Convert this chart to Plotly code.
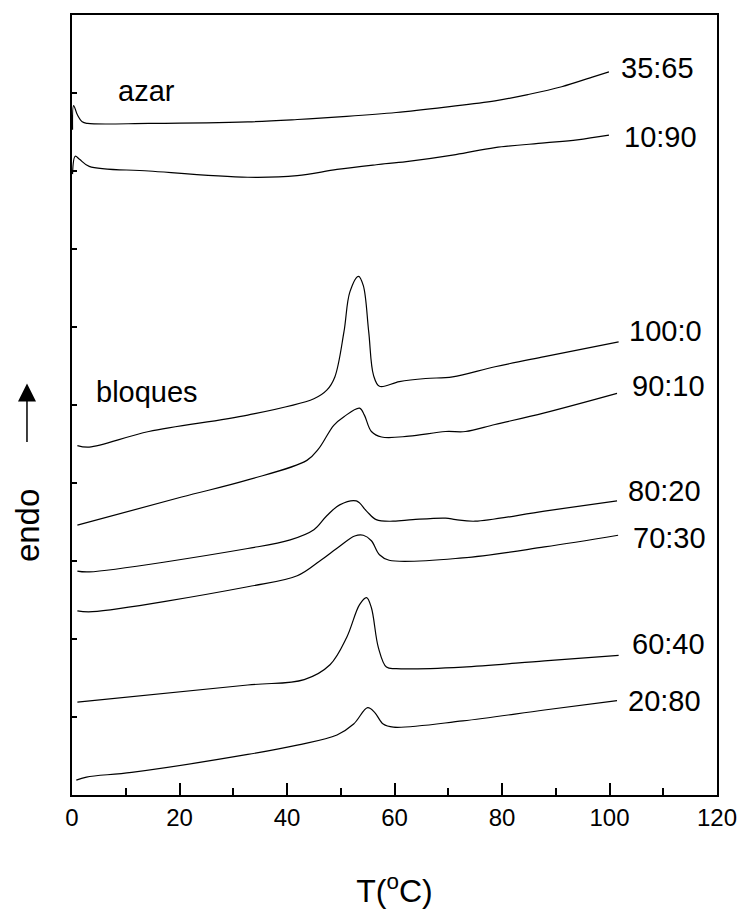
import plotly.graph_objects as go

# ---- data (temperature in °C, heat flow in arbitrary units, offset curves) ----
T_35_65 = [0.1, 0.3, 1.0, 1.9, 2.9, 14.3, 32.7, 41.9, 51.1, 60.3, 69.5, 78.7, 84.8, 91.1, 97.1, 99.9]
H_35_65 = [8.53, 8.84, 8.72, 8.63, 8.61, 8.61, 8.63, 8.66, 8.70, 8.75, 8.82, 8.90, 8.98, 9.08, 9.21, 9.27]

T_10_90 = [0.1, 0.6, 1.4, 3.2, 14.3, 32.7, 41.9, 49.3, 56.6, 62.2, 71.4, 78.7, 87.9, 94.0, 99.9]
H_10_90 = [7.96, 8.19, 8.15, 8.06, 8.00, 7.92, 7.94, 8.02, 8.08, 8.12, 8.21, 8.30, 8.36, 8.40, 8.46]

T_100_0 = [1.0, 3.2, 14.3, 32.7, 45.0, 47.4, 48.9, 50.6, 51.7, 53.3, 54.2, 55.2, 56.1, 57.2, 60.9, 65.8, 70.8, 78.7, 87.9, 101.7]
H_100_0 = [4.48, 4.46, 4.66, 4.87, 5.08, 5.19, 5.36, 5.94, 6.45, 6.65, 6.53, 5.94, 5.38, 5.24, 5.30, 5.34, 5.36, 5.49, 5.62, 5.81]

T_90_10 = [1.0, 20.4, 32.7, 43.7, 45.9, 48.7, 50.6, 53.5, 54.4, 55.7, 57.6, 62.7, 69.5, 73.2, 78.7, 87.9, 101.4]
H_90_10 = [3.46, 3.82, 4.04, 4.29, 4.44, 4.74, 4.85, 4.96, 4.87, 4.66, 4.59, 4.60, 4.66, 4.66, 4.75, 4.90, 5.15]

T_80_20 = [1.0, 3.2, 32.7, 40.6, 45.0, 47.4, 49.8, 52.9, 54.8, 56.6, 59.8, 63.4, 69.5, 71.4, 75.0, 87.9, 101.4]
H_80_20 = [2.87, 2.86, 3.16, 3.27, 3.40, 3.58, 3.72, 3.77, 3.64, 3.53, 3.51, 3.53, 3.55, 3.53, 3.51, 3.64, 3.77]

T_70_30 = [1.0, 3.8, 32.7, 41.9, 46.1, 49.8, 52.6, 54.2, 55.7, 57.2, 59.0, 72.7, 87.9, 101.6]
H_70_30 = [2.36, 2.35, 2.67, 2.81, 3.00, 3.19, 3.32, 3.33, 3.26, 3.08, 3.01, 3.04, 3.18, 3.33]

T_60_40 = [1.0, 32.7, 43.2, 48.0, 51.1, 53.5, 54.8, 55.7, 57.0, 58.5, 60.3, 72.7, 87.9, 101.7]
H_60_40 = [1.19, 1.41, 1.48, 1.67, 2.02, 2.44, 2.53, 2.40, 1.89, 1.64, 1.62, 1.64, 1.72, 1.79]

T_20_80 = [0.8, 2.7, 11.1, 32.7, 41.9, 49.3, 52.4, 55.0, 56.3, 57.9, 59.8, 72.7, 87.9, 101.4]
H_20_80 = [0.19, 0.23, 0.29, 0.52, 0.64, 0.77, 0.91, 1.12, 1.06, 0.91, 0.87, 0.95, 1.09, 1.21]

series = [
    ("35:65", T_35_65, H_35_65, 101.8, 9.32),
    ("10:90", T_10_90, H_10_90, 102.3, 8.44),
    ("100:0", T_100_0, H_100_0, 103.2, 5.95),
    ("90:10", T_90_10, H_90_10, 103.8, 5.24),
    ("80:20", T_80_20, H_80_20, 103.0, 3.90),
    ("70:30", T_70_30, H_70_30, 104.0, 3.30),
    ("60:40", T_60_40, H_60_40, 103.8, 1.93),
    ("20:80", T_20_80, H_20_80, 103.0, 1.21),
]

x_ticks = [0, 20, 40, 60, 80, 100, 120]
y_ticks = list(range(0, 11))

FONT = "Liberation Sans, Arial, Helvetica, sans-serif"

fig = go.Figure()
annotations = []
for name, xs, ys, lx, ly in series:
    fig.add_trace(go.Scatter(x=xs, y=ys, mode="lines", name=name,
                             line=dict(color="black", width=1.2, shape="spline", smoothing=1.0),
                             showlegend=False, hoverinfo="skip"))
    annotations.append(dict(x=lx, y=ly, xref="x", yref="y", text=name, showarrow=False,
                            xanchor="left", yanchor="middle",
                            font=dict(family=FONT, size=29, color="black")))

annotations.append(dict(x=8.2, y=9.02, xref="x", yref="y", text="azar", showarrow=False,
                        xanchor="left", yanchor="middle", font=dict(family=FONT, size=29, color="black")))
annotations.append(dict(x=4.0, y=5.17, xref="x", yref="y", text="bloques", showarrow=False,
                        xanchor="left", yanchor="middle", font=dict(family=FONT, size=29, color="black")))
# y-axis label "endo" with upward arrow
annotations.append(dict(x=-0.0698, y=3.46, xref="paper", yref="y", text="endo", showarrow=False,
                        textangle=-90, xanchor="center", yanchor="middle",
                        font=dict(family=FONT, size=33, color="black")))
annotations.append(dict(x=-0.0698, y=5.275, xref="paper", yref="y", text="", showarrow=True,
                        ax=0, ay=60, axref="pixel", ayref="pixel",
                        arrowhead=2, arrowsize=2.4, arrowwidth=1.5, arrowcolor="black"))

fig.update_layout(
    width=749, height=915,
    margin=dict(l=72, r=25, t=15, b=117),
    paper_bgcolor="white", plot_bgcolor="white",
    font=dict(family=FONT, color="black"),
    annotations=annotations,
    xaxis=dict(range=[0, 120], tickvals=x_ticks, ticks="inside", ticklen=12, tickwidth=1.5,
               tickcolor="black", showline=True, linecolor="black", linewidth=2, mirror=True,
               showgrid=False, zeroline=False, tickfont=dict(size=24, family=FONT),
               minor=dict(dtick=10, tick0=0, ticks="inside", ticklen=7, tickwidth=1.5, tickcolor="black", showgrid=False),
               title=dict(text="T(<sup>o</sup>C)", font=dict(size=32, family=FONT), standoff=50)),
    yaxis=dict(range=[0, 10], tickvals=y_ticks, showticklabels=False, ticks="inside", ticklen=5,
               tickwidth=1.5, tickcolor="black", showline=True, linecolor="black", linewidth=2,
               mirror=True, showgrid=False, zeroline=False),
)

fig.write_html("out.html")
